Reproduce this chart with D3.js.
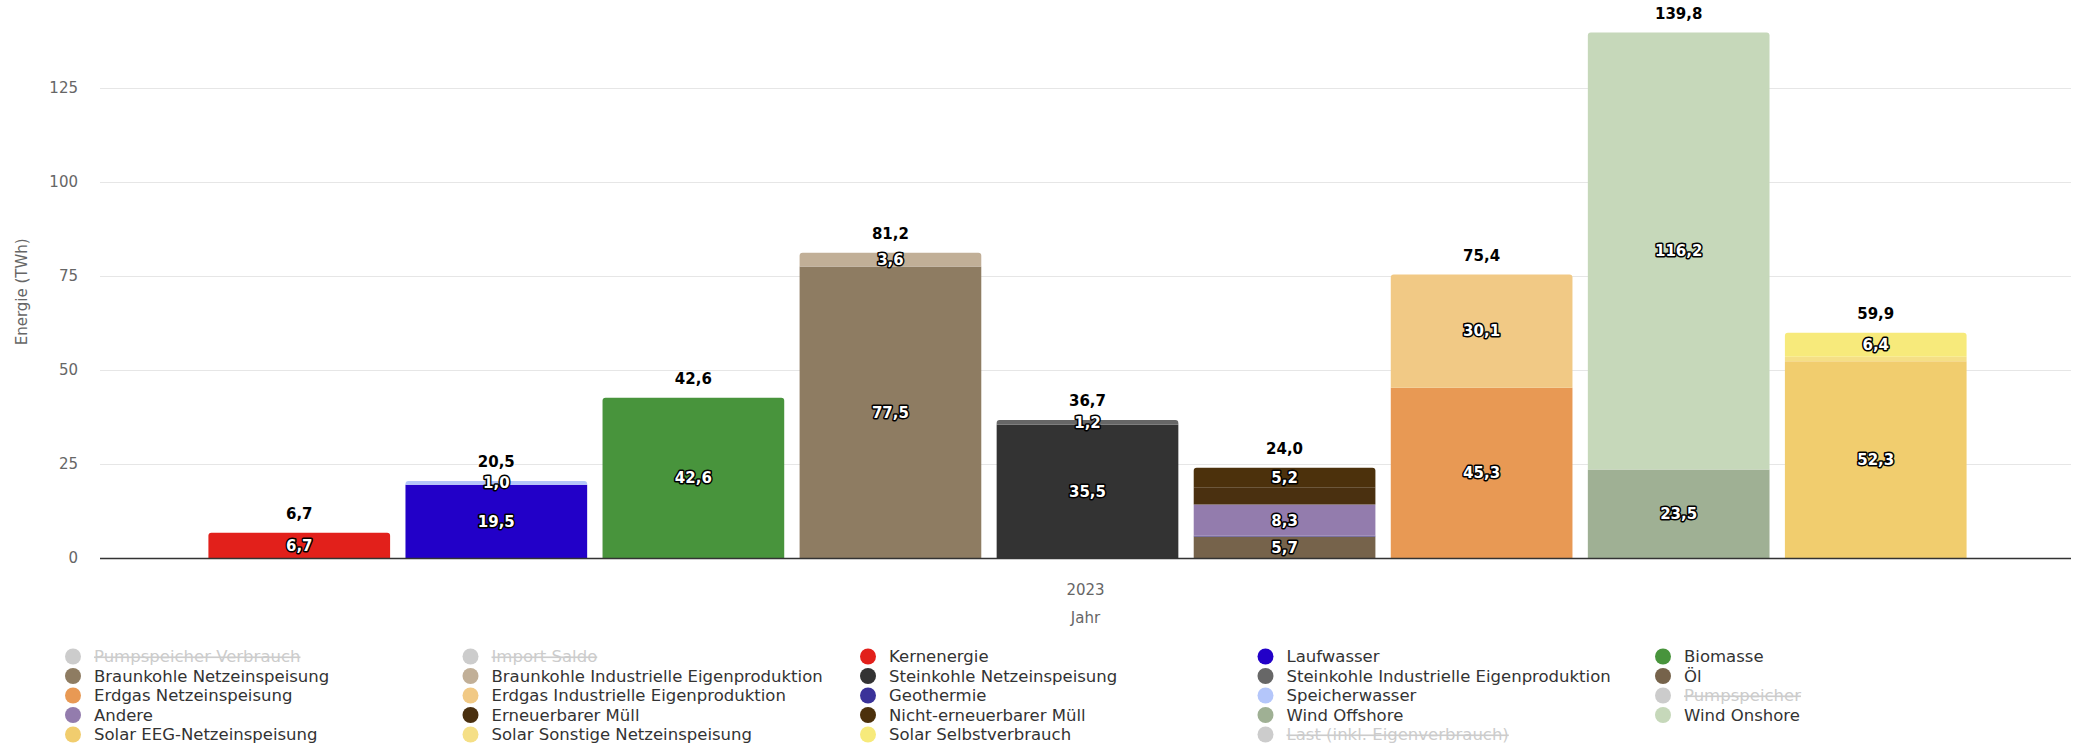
<!DOCTYPE html>
<html><head><meta charset="utf-8">
<script src="https://cdn.jsdelivr.net/npm/d3@7"></script>
<style>
html,body{margin:0;padding:0;background:#fff;}
svg{display:block;font-family:"DejaVu Sans",Verdana,sans-serif;}
</style></head>
<body>
<svg id="chart" width="2078" height="746"></svg>
<script>
// ---- data ----
const category = "2023";
const seriesNames = [
  "Pumpspeicher Verbrauch","Import Saldo","Kernenergie","Laufwasser","Biomasse",
  "Braunkohle Netzeinspeisung","Braunkohle Industrielle Eigenproduktion","Steinkohle Netzeinspeisung","Steinkohle Industrielle Eigenproduktion","Öl",
  "Erdgas Netzeinspeisung","Erdgas Industrielle Eigenproduktion","Geothermie","Speicherwasser","Pumpspeicher",
  "Andere","Erneuerbarer Müll","Nicht-erneuerbarer Müll","Wind Offshore","Wind Onshore",
  "Solar EEG-Netzeinspeisung","Solar Sonstige Netzeinspeisung","Solar Selbstverbrauch","Last (inkl. Eigenverbrauch)"
];
const seriesValues = [
  0, 0, 6.7, 19.5, 42.6,
  77.54, 3.63, 35.5, 1.2, 5.7,
  45.3, 30.1, 0.2, 1.0, 0,
  8.3, 4.6, 5.2, 23.54, 116.24,
  52.3, 1.2, 6.4, 0
];
const seriesStacks = [
  "pv","import","kern","wasser","bio",
  "braun","braun","stein","stein","sonst",
  "gas","gas","sonst","wasser","pump",
  "sonst","sonst","sonst","wind","wind",
  "solar","solar","solar","last"
];
const seriesVisible = [
  false,false,true,true,true,
  true,true,true,true,true,
  true,true,true,true,false,
  true,true,true,true,true,
  true,true,true,false
];
const seriesColors = [
  "#cccccc","#cccccc","#e2201b","#2200c8","#48943c",
  "#8e7c62","#c1af97","#333333","#676767","#76634b",
  "#e89954","#f1c985","#3a3299","#b4c6fa","#cccccc",
  "#937cad","#4a3010","#4c310c","#9fb094","#c6d8ba",
  "#f1cd6e","#f5df86","#f7ea7b","#cccccc"
];
const yTicks = [0, 25, 50, 75, 100, 125];
const yTitle = "Energie (TWh)";
const xTitle = "Jahr";

// ---- layout ----
const svg = d3.select("#chart");
const plot = {left: 100, right: 2071, top: 31.6, bottom: 558};
const fmt = v => d3.format(".1f")(v).replace(".", ",");

const y = d3.scaleLinear().domain([0, 140]).range([plot.bottom, plot.top]);
const x0 = d3.scaleBand().domain([category]).range([plot.left, plot.right]);
const stacks = [];
seriesStacks.forEach((s, i) => { if (seriesVisible[i] && !stacks.includes(s)) stacks.push(s); });
const x1 = d3.scaleBand().domain(stacks).range([x0(category) + 2, x0(category) + x0.bandwidth() + 2])
  .paddingInner(0.078).paddingOuter(0.54);

// gridlines
svg.append("g").selectAll("line").data(yTicks.filter(t => t > 0)).join("line")
  .attr("x1", plot.left).attr("x2", plot.right)
  .attr("y1", d => Math.round(y(d)) + 0.5).attr("y2", d => Math.round(y(d)) + 0.5)
  .attr("stroke", "#e6e6e6").attr("stroke-width", 1);

// y axis labels
const yAxis = d3.axisLeft(y).tickValues(yTicks).tickSize(0).tickPadding(0).tickFormat(d3.format("d"));
const gy = svg.append("g").attr("transform", `translate(${plot.left - 22},0)`).call(yAxis);
gy.select(".domain").remove();
gy.selectAll("text").attr("font-size", 15).attr("fill", "#666666")
  .attr("font-family", "'DejaVu Sans',sans-serif");

svg.append("text").attr("transform", `translate(22,${(plot.top + plot.bottom) / 2 - 3}) rotate(-90)`)
  .attr("text-anchor", "middle").attr("dy", "0.35em").attr("font-size", 15).attr("fill", "#666666")
  .text(yTitle);

// build stacked segments
const segs = [];
const tops = {};
stacks.forEach(s => tops[s] = 0);
seriesNames.forEach((name, i) => {
  if (!seriesVisible[i]) return;
  const s = seriesStacks[i];
  const y0 = tops[s], y1v = y0 + seriesValues[i];
  tops[s] = y1v;
  segs.push({i, name, stack: s, y0, y1: y1v, v: seriesValues[i], color: seriesColors[i]});
});
const topSeg = {};
segs.forEach(d => topSeg[d.stack] = d);

function segPath(d) {
  const xL = x1(d.stack), w = x1.bandwidth();
  const yT = y(d.y1), yB = y(d.y0);
  const r = (topSeg[d.stack] === d) ? Math.min(3, yB - yT) : 0;
  return `M${xL},${yB}L${xL},${yT + r}Q${xL},${yT} ${xL + r},${yT}L${xL + w - r},${yT}Q${xL + w},${yT} ${xL + w},${yT + r}L${xL + w},${yB}Z`;
}
svg.append("g").selectAll("path").data(segs).join("path")
  .attr("d", segPath).attr("fill", d => d.color);

// x axis line
svg.append("line").attr("x1", plot.left).attr("x2", plot.right)
  .attr("y1", plot.bottom + 0.5).attr("y2", plot.bottom + 0.5)
  .attr("stroke", "#333333").attr("stroke-width", 1.6);

const xAxis = d3.axisBottom(x0).tickSize(0).tickPadding(0);
const gx = svg.append("g").attr("transform", `translate(0,${plot.bottom + 27})`).call(xAxis);
gx.select(".domain").remove();
gx.selectAll("text").attr("font-size", 15).attr("fill", "#666666")
  .attr("font-family", "'DejaVu Sans',sans-serif").attr("dy", "0.35em").attr("y", 5);
svg.append("text").attr("x", x0(category) + x0.bandwidth() / 2).attr("y", 618).attr("dy", "0.35em")
  .attr("text-anchor", "middle").attr("font-size", 15).attr("fill", "#666666").text(xTitle);

// segment data labels with overlap hiding (larger segments first)
const shown = [];
stacks.forEach(s => {
  const list = segs.filter(d => d.stack === s && d.v > 0)
    .map(d => ({...d, cy: (y(d.y0) + y(d.y1)) / 2}))
    .sort((a, b) => b.v - a.v);
  const acc = [];
  list.forEach(d => { if (acc.every(a => Math.abs(a.cy - d.cy) >= 20)) acc.push(d); });
  shown.push(...acc);
});
svg.append("g").selectAll("text").data(shown).join("text")
  .attr("x", d => x1(d.stack) + x1.bandwidth() / 2).attr("y", d => d.cy).attr("dy", "0.36em")
  .attr("text-anchor", "middle").attr("font-size", 15).attr("font-weight", "bold")
  .attr("fill", "#ffffff").attr("stroke", "#000000").attr("stroke-width", 3)
  .attr("stroke-linejoin", "round").attr("paint-order", "stroke")
  .text(d => fmt(d.v));

// stack totals
svg.append("g").selectAll("text").data(stacks).join("text")
  .attr("x", s => x1(s) + x1.bandwidth() / 2).attr("y", s => y(tops[s]) - 19).attr("dy", "0.36em")
  .attr("text-anchor", "middle").attr("font-size", 15).attr("font-weight", "bold")
  .attr("fill", "#000000").attr("stroke", "#ffffff").attr("stroke-width", 2)
  .attr("stroke-linejoin", "round").attr("paint-order", "stroke")
  .text(s => fmt(tops[s]));

// legend
const legCols = 5, colW = 397.5, legX = 73, legY = 656.5, rowH = 19.5;
const leg = svg.append("g").selectAll("g").data(seriesNames.map((n, i) => ({n, i}))).join("g")
  .attr("transform", d => `translate(${legX + (d.i % legCols) * colW},${legY + Math.floor(d.i / legCols) * rowH})`);
leg.append("circle").attr("r", 8).attr("fill", d => seriesVisible[d.i] ? seriesColors[d.i] : "#cccccc");
leg.append("text").attr("x", 21).attr("dy", "0.35em").attr("font-size", 16.5)
  .attr("fill", d => seriesVisible[d.i] ? "#333333" : "#cccccc")
  .attr("text-decoration", d => seriesVisible[d.i] ? null : "line-through")
  .text(d => d.n);
</script>
</body></html>
